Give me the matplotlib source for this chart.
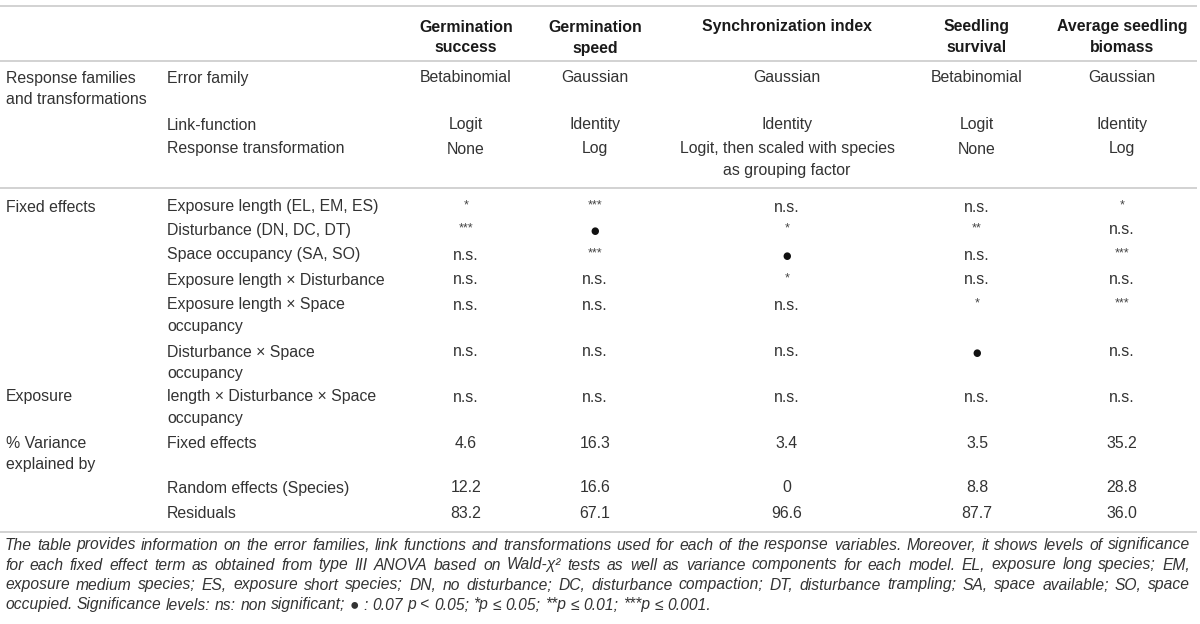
import matplotlib
matplotlib.use("Agg")
import matplotlib.pyplot as plt

plt.rcParams['font.family'] = ['Liberation Sans', 'DejaVu Sans']

# column headers
headers = ["Germination\nsuccess", "Germination\nspeed", "Synchronization index",
           "Seedling\nsurvival", "Average seedling\nbiomass"]

# group labels (row index -> label)
groups = {0: "Response families\nand transformations", 3: "Fixed effects",
          9: "Exposure", 10: "% Variance\nexplained by"}

row_labels = ["Error family", "Link-function", "Response transformation",
              "Exposure length (EL, EM, ES)", "Disturbance (DN, DC, DT)",
              "Space occupancy (SA, SO)", "Exposure length × Disturbance",
              "Exposure length × Space\noccupancy", "Disturbance × Space\noccupancy",
              "length × Disturbance × Space\noccupancy",
              "Fixed effects", "Random effects (Species)", "Residuals"]

germ_success = ["Betabinomial", "Logit", "None", "*", "***", "n.s.", "n.s.", "n.s.", "n.s.", "n.s.",
                "4.6", "12.2", "83.2"]
germ_speed = ["Gaussian", "Identity", "Log", "***", "●", "***", "n.s.", "n.s.", "n.s.", "n.s.",
              "16.3", "16.6", "67.1"]
sync_index = ["Gaussian", "Identity", "Logit, then scaled with species\nas grouping factor",
              "n.s.", "*", "●", "*", "n.s.", "n.s.", "n.s.", "3.4", "0", "96.6"]
seed_survival = ["Betabinomial", "Logit", "None", "n.s.", "**", "n.s.", "n.s.", "*", "●", "n.s.",
                 "3.5", "8.8", "87.7"]
seed_biomass = ["Gaussian", "Identity", "Log", "*", "n.s.", "***", "n.s.", "***", "n.s.", "n.s.",
                "35.2", "28.8", "36.0"]
values = [germ_success, germ_speed, sync_index, seed_survival, seed_biomass]

caption = [
    "The table provides information on the error families, link functions and transformations used for each of the response variables. Moreover, it shows levels of significance",
    "for each fixed effect term as obtained from type III ANOVA based on Wald-χ² tests as well as variance components for each model. EL, exposure long species; EM,",
    "exposure medium species; ES, exposure short species; DN, no disturbance; DC, disturbance compaction; DT, disturbance trampling; SA, space available; SO, space",
    "occupied. Significance levels: ns: non significant; ● : 0.07 p < 0.05; *p ≤ 0.05; **p ≤ 0.01; ***p ≤ 0.001.",
]

# layout (pixels)
W, H = 1200, 624
col_x = [466, 595, 787, 977, 1122]
x_group, x_label = 6, 167
row_y = [78, 125, 149, 207, 230, 255, 280, 305, 352, 397, 443, 488, 513]
rules = [6, 61, 188, 532]
line_h = 21.5
fs = 11.4
txt = '#333333'

fig = plt.figure(figsize=(W / 100, H / 100), dpi=100)
ax = fig.add_axes([0, 0, 1, 1])
ax.set_xlim(0, W)
ax.set_ylim(H, 0)
ax.axis('off')


def put(x, y, s, ha='left', **kw):
    for i, part in enumerate(s.split('\n')):
        ax.text(x, y + i * line_h, part, ha=ha, va='center', fontsize=fs, color=txt, **kw)


for y in rules:
    ax.plot([0, 1197], [y, y], color='#cfcfcf', lw=1.3, solid_capstyle='butt')

for x, h in zip(col_x, headers):
    for i, part in enumerate(h.split('\n')):
        ax.text(x, 27 + i * 21, part, ha='center', va='center', fontsize=fs,
                fontweight='bold', color='#1a1a1a')

for i, g in groups.items():
    put(x_group, row_y[i], g)

for y, lab in zip(row_y, row_labels):
    put(x_label, y, lab)

for x, col in zip(col_x, values):
    for y, v in zip(row_y, col):
        if v.startswith('*'):
            ax.text(x, y - 2, v, ha='center', va='center', fontsize=9, color='#444444')
        elif v == '●':
            ax.text(x, y + 1, v, ha='center', va='center', fontsize=7, color='#111111',
                    family=['DejaVu Sans'])
        else:
            put(x, y, v, ha='center')

# caption, justified like the source
cap_y = [545, 565, 585, 605]
x0, x1 = 5, 1190
fig.canvas.draw()
renderer = fig.canvas.get_renderer()

# pick caption size so the longest line almost fills the width
probe = ax.text(0, 0, caption[0], fontsize=fs, style='italic')
nat = probe.get_window_extent(renderer).width
probe.remove()
fs_cap = fs * (x1 - x0) / nat * 0.985

for k, (line, y) in enumerate(zip(caption, cap_y)):
    words = line.split(' ')
    objs = [ax.text(0, y, w, ha='left', va='center', fontsize=fs_cap, style='italic', color=txt)
            for w in words]
    widths = [o.get_window_extent(renderer).width for o in objs]
    if k < len(caption) - 1:
        gap = (x1 - x0 - sum(widths)) / (len(words) - 1)
    else:
        sp = ax.text(0, y, 'a a', fontsize=fs_cap, style='italic')
        aa = ax.text(0, y, 'aa', fontsize=fs_cap, style='italic')
        gap = sp.get_window_extent(renderer).width - aa.get_window_extent(renderer).width
        sp.remove()
        aa.remove()
    x = x0
    for o, w in zip(objs, widths):
        o.set_x(x)
        x += w + gap

fig.savefig('out.png', dpi=100)
